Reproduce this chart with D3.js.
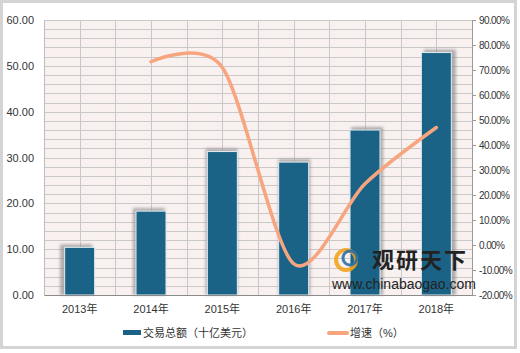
<!DOCTYPE html>
<html>
<head>
  <meta charset="utf-8">
  <script src="https://d3js.org/d3.v7.min.js"></script>
  <style>
    body { margin: 0; background: #fff; }
    text { font-family: "Liberation Sans", "Noto Sans CJK SC", sans-serif; }
  </style>
</head>
<body>
  <script>
    // Data
    var years = ["2013年", "2014年", "2015年", "2016年", "2017年", "2018年"];
    var totals = [10.4, 18.3, 31.3, 29.0, 36.0, 52.9];
    var growth = [null, 73.3, 71.0, -7.5, 24.5, 47.0];
    var leftTicks = [0, 10, 20, 30, 40, 50, 60];
    var rightTicks = [-20, -10, 0, 10, 20, 30, 40, 50, 60, 70, 80, 90];

    var W = 520, H = 353;
    var margin = {top: 20, right: 48, bottom: 58, left: 44};
    var width = W - margin.left - margin.right;
    var height = H - margin.top - margin.bottom;

    var svg = d3.select("body").append("svg")
      .attr("width", W)
      .attr("height", H);

    // blur filter for the bar shadows
    var defs = svg.append("defs");
    defs.append("filter").attr("id", "blur")
      .attr("x", "-50%").attr("y", "-50%").attr("width", "200%").attr("height", "200%")
      .append("feGaussianBlur").attr("stdDeviation", 1.5);

    // outer frame
    svg.append("rect")
      .attr("x", 1.5).attr("y", 1.5)
      .attr("width", 514).attr("height", 346)
      .attr("fill", "#fff")
      .attr("stroke", "#d4d4d4")
      .attr("stroke-width", 3);

    var g = svg.append("g")
      .attr("transform", "translate(" + margin.left + "," + margin.top + ")");

    var x = d3.scaleBand().domain(years).range([0, width]).paddingInner(0).paddingOuter(0);
    var y = d3.scaleLinear().domain([0, 60]).range([height, 0]);
    var y2 = d3.scaleLinear().domain([-20, 90]).range([height, 0]);

    // plot background
    g.append("rect")
      .attr("width", width).attr("height", height)
      .attr("fill", "#f9f0f0");

    // horizontal grid every 2 units
    g.append("g").selectAll("line")
      .data(d3.range(2, 61, 2))
      .join("line")
      .attr("x1", 0).attr("x2", width)
      .attr("y1", function(d) { return Math.round(y(d)) + 0.5; })
      .attr("y2", function(d) { return Math.round(y(d)) + 0.5; })
      .attr("stroke", "#c9c9c9");

    // vertical grid at category edges and centres
    var vx = [];
    years.forEach(function(d) {
      vx.push(x(d));
      vx.push(x(d) + x.bandwidth() / 2);
    });
    vx.push(width);
    g.append("g").selectAll("line")
      .data(vx)
      .join("line")
      .attr("x1", function(d) { return Math.round(d) + 0.5; })
      .attr("x2", function(d) { return Math.round(d) + 0.5; })
      .attr("y1", 0).attr("y2", height)
      .attr("stroke", "#c9c9c9");

    // bars with shadows
    var barW = 30;
    var cxMid = width / 2;
    g.append("g").selectAll("rect")
      .data(totals)
      .join("rect")
      .attr("x", function(d, i) {
        var cx = x(years[i]) + x.bandwidth() / 2;
        return cx - barW / 2 - 1 + (cx - cxMid) / 50;
      })
      .attr("y", function(d) { return y(d) - 3; })
      .attr("width", barW + 2)
      .attr("height", function(d) { return height - y(d) + 3; })
      .attr("fill", "#808080")
      .attr("opacity", 0.6)
      .attr("filter", "url(#blur)");

    g.append("g").selectAll("rect")
      .data(totals)
      .join("rect")
      .attr("x", function(d, i) { return x(years[i]) + x.bandwidth() / 2 - barW / 2; })
      .attr("y", function(d) { return y(d); })
      .attr("width", barW)
      .attr("height", function(d) { return height - y(d); })
      .attr("fill", "#1b6386")
      .attr("stroke", "#e4edf2")
      .attr("stroke-width", 1);

    // growth line
    var line = d3.line()
      .defined(function(d) { return d != null; })
      .x(function(d, i) { return x(years[i]) + x.bandwidth() / 2; })
      .y(function(d) { return y2(d); })
      .curve(d3.curveCardinal.tension(0.15));

    g.append("path")
      .datum(growth)
      .attr("d", line)
      .attr("fill", "none")
      .attr("stroke", "#f6a57f")
      .attr("stroke-width", 3.5)
      .attr("stroke-linecap", "round");

    // axes
    var leftAxis = g.append("g")
      .call(d3.axisLeft(y).tickValues(leftTicks).tickSize(0).tickPadding(10)
        .tickFormat(d3.format(".2f")));
    leftAxis.select(".domain").attr("stroke", "#bdbdbd");
    leftAxis.selectAll("text").attr("font-size", 11).attr("fill", "#333");

    var rightAxis = g.append("g")
      .attr("transform", "translate(" + width + ",0)")
      .call(d3.axisRight(y2).tickValues(rightTicks).tickSizeOuter(0).tickSize(4).tickPadding(3)
        .tickFormat(function(d) { return d.toFixed(2) + "%"; }));
    rightAxis.select(".domain").attr("stroke", "#9a9a9a");
    rightAxis.selectAll("line").attr("stroke", "#9a9a9a");
    rightAxis.selectAll("text")
      .attr("font-family", "'DejaVu Sans Mono', monospace")
      .attr("font-size", 10).attr("letter-spacing", -0.6).attr("fill", "#333");

    var bottomAxis = g.append("g")
      .attr("transform", "translate(0," + height + ")")
      .call(d3.axisBottom(x).tickSize(0).tickPadding(10));
    bottomAxis.select(".domain").attr("stroke", "#8a8a8a");
    bottomAxis.selectAll("text").attr("font-size", 11).attr("fill", "#333");

    // watermark
    var wm = g.append("g").attr("transform", "translate(288,232)");
    wm.append("circle").attr("cx", 14).attr("cy", 8).attr("r", 10)
      .attr("fill", "none").attr("stroke", "#f2a31b").attr("stroke-width", 4).attr("opacity", 0.9);
    wm.append("circle").attr("cx", 18).attr("cy", 6).attr("r", 7)
      .attr("fill", "none").attr("stroke", "#2b6fa8").attr("stroke-width", 3).attr("opacity", 0.9);
    wm.append("text").attr("x", 40).attr("y", 16)
      .attr("font-family", "'Noto Sans CJK SC'").attr("font-weight", "bold")
      .attr("font-size", 22).attr("fill", "#222").attr("letter-spacing", 2)
      .text("观研天下");
    wm.append("text").attr("x", 0).attr("y", 37)
      .attr("font-size", 14).attr("fill", "#222")
      .text("www.chinabaogao.com");

    // legend
    var lg = svg.append("g").attr("transform", "translate(0,333)");
    lg.append("rect").attr("x", 123).attr("y", -3).attr("width", 18).attr("height", 5).attr("fill", "#1b6386");
    lg.append("text").attr("x", 143).attr("y", 4)
      .attr("font-family", "'Noto Sans CJK SC'").attr("font-size", 11).attr("fill", "#333")
      .text("交易总额（十亿美元）");
    lg.append("line").attr("x1", 329).attr("x2", 347).attr("y1", 0).attr("y2", 0)
      .attr("stroke", "#f6a57f").attr("stroke-width", 4).attr("stroke-linecap", "round");
    lg.append("text").attr("x", 350).attr("y", 4)
      .attr("font-family", "'Noto Sans CJK SC'").attr("font-size", 11).attr("fill", "#333")
      .text("增速（%）");
  </script>
</body>
</html>
